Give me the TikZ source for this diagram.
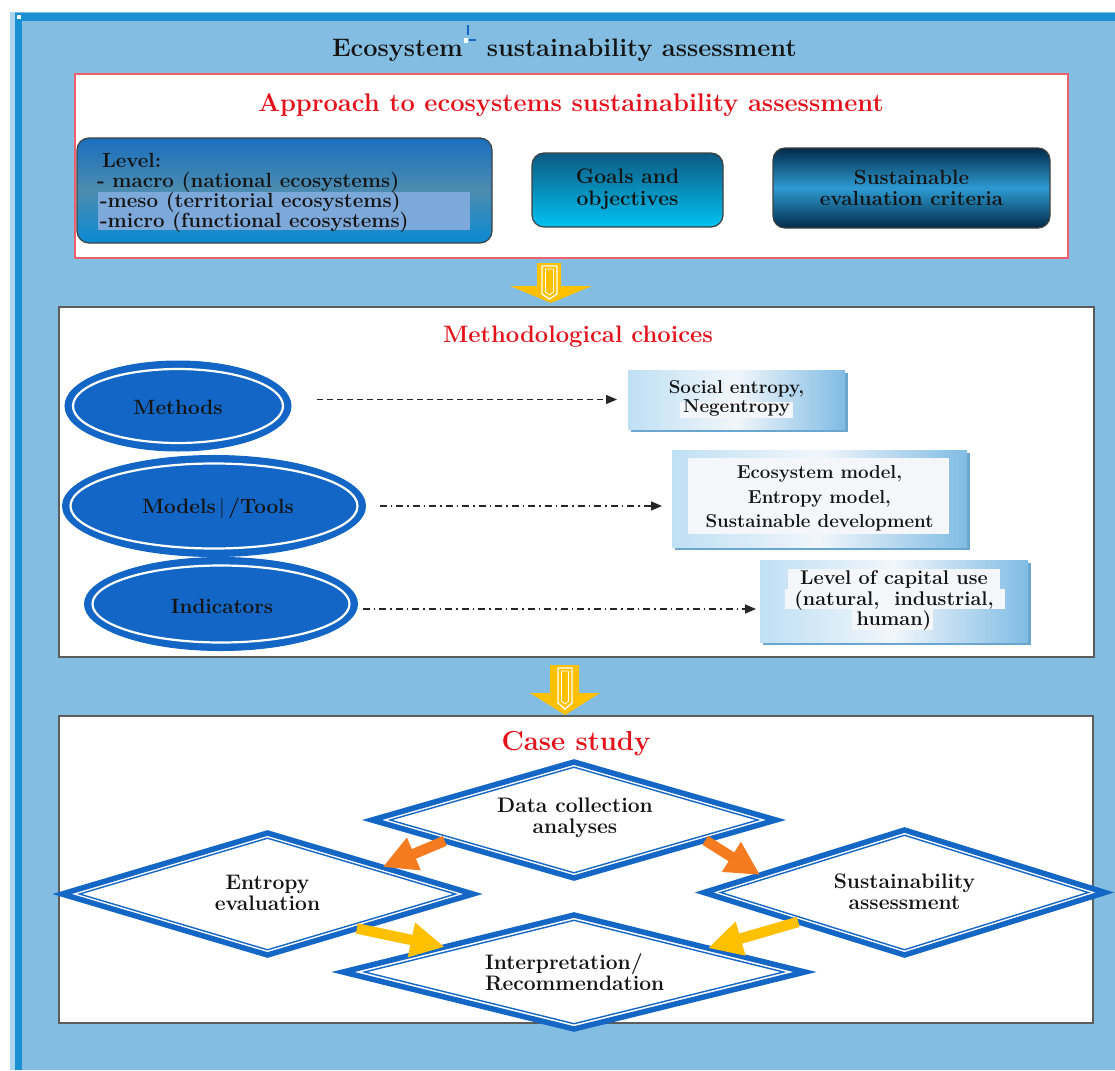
\documentclass[tikz,border=0pt]{standalone}
\usetikzlibrary{shapes.geometric,arrows.meta,calc,shadows}
\definecolor{bgblue}{HTML}{83BDE2}
\definecolor{stripblue}{HTML}{1990D2}
\definecolor{lightstrip}{HTML}{A9D5F0}
\definecolor{framered}{HTML}{F0606C}
\definecolor{headred}{HTML}{E5121C}
\definecolor{royal}{HTML}{1567C6}
\definecolor{ovalblue}{HTML}{1366C5}
\definecolor{panelgray}{HTML}{5C5C5C}
\definecolor{arrowyellow}{HTML}{FFC000}
\definecolor{arroworange}{HTML}{F57B20}
\definecolor{capleft}{HTML}{BFE0F4}
\definecolor{capright}{HTML}{80BCE4}
\definecolor{capmid}{HTML}{F1F6FB}
\definecolor{capshadow}{HTML}{6AA6D0}
\definecolor{hilite}{HTML}{7DA8DA}
\definecolor{paper}{HTML}{F5F6FA}
\definecolor{inkdark}{HTML}{141414}
\definecolor{leveltop}{HTML}{1A6FBE}
\definecolor{levelmid}{HTML}{4C8CB0}
\definecolor{levelbot}{HTML}{0A8AD2}
\definecolor{goaltop}{HTML}{0E5A82}
\definecolor{goalbot}{HTML}{00C2F2}
\definecolor{critdark}{HTML}{002B4A}
\definecolor{critmid}{HTML}{2E9BD2}
\newcommand{\fsz}[2]{\fontsize{#1}{#2}\selectfont}
\begin{document}
\begin{tikzpicture}[x=1pt,y=-1pt,
  every node/.style={inner sep=0pt, outer sep=0pt},
  panel/.style={rectangle, draw=panelgray, line width=1.8pt, fill=white, anchor=north west,
    drop shadow={shadow xshift=1.3pt, shadow yshift=-1.3pt, fill=black!50, opacity=1}},
  heading/.style={text=headred},
  boxtext/.style={font=\bfseries\fsz{21}{21}, text=inkdark, align=center},
  leveltext/.style={font=\bfseries\fsz{20.5}{20.5}, text=inkdark, anchor=base west},
  tile/.style={rectangle, rounded corners=12pt, draw=black!75, line width=1.2pt, anchor=north west},
  oval/.style={ellipse, fill=ovalblue, draw=ovalblue, line width=1pt},
  ovalring/.style={ellipse, draw=white, line width=2.2pt},
  ovaltext/.style={font=\bfseries\fsz{20.7}{21}, text=inkdark},
  capbox/.style={rectangle, anchor=north west, left color=capleft, right color=capright, middle color=capmid,
    drop shadow={shadow xshift=3pt, shadow yshift=-3pt, fill=capshadow, opacity=1}},
  flowline/.style={draw=black!85, line width=1.3pt, -{Triangle[length=11pt,width=9pt]}},
  dia/.style={diamond, draw=royal, line width=5.5pt, fill=white},
  diainner/.style={diamond, draw=royal, line width=1.4pt},
  fat/.style={line width=10.5pt, -{Triangle[length=34pt,width=33pt]}},
  blockarrow/.style={fill=arrowyellow},
  blockinner/.style={draw=white, line width=1.3pt, line join=round},
]
\useasboundingbox (0,0) rectangle (1115,1070);
% backdrop
\fill[white] (0,0) rectangle (1115,1070);
\fill[bgblue] (10,12) rectangle (1115,1070);
\fill[lightstrip] (10,12) rectangle (15,1070);
\fill[stripblue] (15,13) rectangle (1115,21);
\fill[stripblue] (15,13) rectangle (22,1070);
\fill[white] (17,15) rectangle (21,19);

% title
\node[font=\bfseries\fsz{25.3}{28}, text=inkdark, anchor=base west] (title) at (332,57)
  {Ecosystem\hspace{14.5pt} sustainability assessment};
\draw[royal, line width=1.2pt] (468,25) -- (468,35);
\draw[royal, line width=1.6pt] (469,40) -- (476,40);
\fill[white] (464,38) rectangle (468,43);

% ---------- approach panel ----------
\node[draw=framered, line width=2pt, fill=white, anchor=north west, rectangle,
      minimum width=993pt, minimum height=184pt] (appr) at (75,74) {};
\node[heading, font=\bfseries\fsz{25.5}{28}, anchor=base] (apprhead) at (571,112)
  {Approach to ecosystems sustainability assessment};

\node[tile, minimum width=415pt, minimum height=105pt,
      top color=leveltop, bottom color=levelbot, middle color=levelmid] (level) at (77,138) {};
\fill[hilite] (98,192) rectangle (470,230);
\node[leveltext] (lv0) at (102,167) {Level:};
\node[leveltext] (lv1) at (97,187) {- macro (national ecosystems)};
\node[leveltext] (lv2) at (100,207) {-meso (territorial ecosystems)};
\node[leveltext] (lv3) at (100,227) {-micro (functional ecosystems)};

\node[tile, minimum width=191pt, minimum height=74pt,
      top color=goaltop, bottom color=goalbot] (goals) at (532,153) {};
\node[boxtext, font=\bfseries\fsz{21}{22}] (goalstext) at ($(goals.center)+(0,-1)$) {Goals and\\objectives};

\node[tile, minimum width=277pt, minimum height=80pt,
      top color=critdark, bottom color=critdark, middle color=critmid] (crit) at (773,148) {};
\node[boxtext, font=\bfseries\fsz{20.5}{21}] (crittext) at (crit.center) {Sustainable\\evaluation criteria};

% first block arrow
\fill[blockarrow] (537,263) -- (561,263) -- (561,286) -- (592,286) -- (551,303)
  -- (510,286) -- (537,286) -- cycle;
\draw[blockinner] (542,266) -- (557,266) -- (557,294) -- (549.5,299) -- (542,294) -- cycle;
\draw[blockinner, line width=0.8pt] (545.5,269) -- (553.5,269) -- (553.5,292) -- (549.5,295) -- (545.5,292) -- cycle;

% ---------- methodological panel ----------
\node[panel, minimum width=1035pt, minimum height=350pt] (meth) at (59,307) {};
\node[heading, font=\bfseries\fsz{23.8}{26}] (methhead) at (578,337) {Methodological choices};

\node[oval, minimum width=226pt, minimum height=90pt] (methods) at (178,406) {};
\node[ovalring, minimum width=210pt, minimum height=74pt] at (methods.center) {};
\node[ovaltext] at ($(methods.center)+(0,1)$) {Methods};

\node[oval, minimum width=303pt, minimum height=101pt] (models) at (214,506) {};
\node[ovalring, minimum width=287pt, minimum height=85pt] at (models.center) {};
\node[ovaltext] at ($(models.center)+(4,2)$) {Models\,{\mdseries|}\,/Tools};

\node[oval, minimum width=273pt, minimum height=93pt] (indic) at (221,604) {};
\node[ovalring, minimum width=257pt, minimum height=77pt] at (indic.center) {};
\node[ovaltext] at ($(indic.center)+(1,2)$) {Indicators};

\node[capbox, minimum width=217pt, minimum height=59pt] (social) at (628,370) {};
\fill[paper] (680,402) rectangle (793,418);
\node[boxtext, font=\bfseries\fsz{18.7}{18.5}] at ($(social.center)+(0,-1)$) {Social entropy,\\Negentropy};

\node[capbox, minimum width=295pt, minimum height=97pt] (ecomod) at (672,450) {};
\fill[paper] (688,458) rectangle (949,534);
\node[boxtext, font=\bfseries\fsz{18.7}{24.5}] at (ecomod.center) {Ecosystem model,\\Entropy model,\\Sustainable development};

\node[capbox, minimum width=268pt, minimum height=82pt] (capital) at (760,560) {};
\fill[paper] (788,569) rectangle (1000,589);
\fill[paper] (785,589) rectangle (1005,609);
\fill[paper] (852,609) rectangle (933,630);
\node[boxtext, font=\bfseries\fsz{19.8}{20.5}] at (capital.center) {Level of capital use\\(natural,\ \ industrial,\\human)};

\draw[flowline, dash pattern=on 6pt off 4pt, shorten <=26pt, shorten >=11pt]
  (methods.east |- social.west) -- (social.west);
\draw[flowline, dash pattern=on 7pt off 4pt on 1.5pt off 4pt, shorten <=14pt, shorten >=10pt]
  (models.east) -- (models.east -| ecomod.west);
\coordinate (indicout) at ($(indic.east)+(0,5)$);
\draw[flowline, dash pattern=on 7pt off 4pt on 1.5pt off 4pt, shorten <=5pt, shorten >=4pt]
  (indicout) -- (indicout -| capital.west);

% second block arrow
\fill[blockarrow] (550,665) -- (579,665) -- (579,693) -- (600,693) -- (565,715)
  -- (530,693) -- (550,693) -- cycle;
\draw[blockinner] (558,668) -- (572,668) -- (572,703) -- (565,709) -- (558,703) -- cycle;
\draw[blockinner, line width=0.8pt] (561.5,671) -- (568.5,671) -- (568.5,701) -- (565,704) -- (561.5,701) -- cycle;

% ---------- case study panel ----------
\node[panel, minimum width=1034pt, minimum height=307pt] (case) at (59,716) {};
\node[heading, font=\bfseries\fsz{27.5}{30}] (casehead) at (576,744) {Case study};

\node[dia, minimum width=404pt, minimum height=116pt] (data) at (574,820) {};
\node[diainner, minimum width=368pt, minimum height=105.6pt] at (data.center) {};
\node[boxtext] at ($(data.center)+(1,-2)$) {Data collection\\analyses};

\node[dia, minimum width=411pt, minimum height=122pt] (entropy) at (267.5,894) {};
\node[diainner, minimum width=376pt, minimum height=111.6pt] at (entropy.center) {};
\node[boxtext] at ($(entropy.center)+(0,-1)$) {Entropy\\evaluation};

\node[dia, minimum width=401pt, minimum height=125pt] (sustain) at (904.5,892.5) {};
\node[diainner, minimum width=367.5pt, minimum height=114.5pt] at (sustain.center) {};
\node[boxtext] at ($(sustain.center)+(0,-1)$) {Sustainability\\assessment};

\node[dia, minimum width=462pt, minimum height=114pt] (interp) at (574,972) {};
\node[diainner, minimum width=419pt, minimum height=103.4pt] at (interp.center) {};
\node[boxtext, align=left, anchor=west] at (485,972) {Interpretation/\\Recommendation};

% flow between the case-study steps
\draw[fat, arroworange] ($(data.west)!0.36!(data.south)$) -- ($(entropy.north)!0.56!(entropy.east)$);
\draw[fat, arroworange] ($(data.south)!0.65!(data.east)$) -- ($(sustain.west)!0.28!(sustain.north)$);
\draw[fat, arrowyellow] ($(entropy.south)!0.435!(entropy.east)$) -- ($(interp.west)!0.44!(interp.north)$);
\draw[fat, arrowyellow] ($(sustain.west)!0.47!(sustain.south)$) -- ($(interp.north)!0.58!(interp.east)$);
\end{tikzpicture}
\end{document}
